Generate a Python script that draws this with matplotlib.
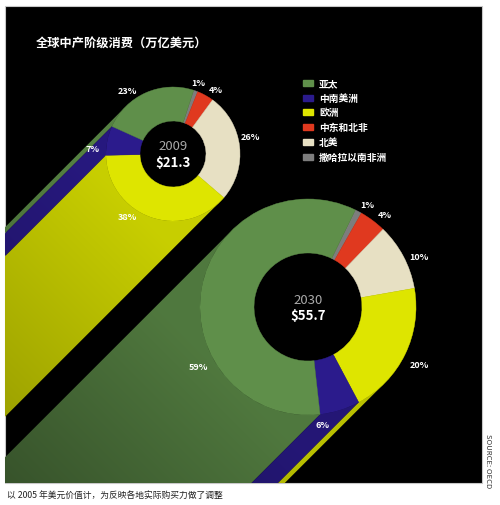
import numpy as np
import matplotlib.pyplot as plt
from matplotlib.patches import Wedge, Rectangle, Polygon

plt.rcParams['font.family'] = ['Noto Sans CJK SC', 'DejaVu Sans']

# data
regions = ['亚太', '中南美洲', '欧洲', '中东和北非', '北美', '撒哈拉以南非洲']
colors = ['#5f8f4a', '#2b1b8c', '#dee500', '#e0391f', '#e7e0c3', '#7d7d7d']
share_2009 = [23, 7, 38, 4, 26, 1]
share_2030 = [59, 6, 20, 4, 10, 1]
years = ['2009', '2030']
totals = ['$21.3', '$55.7']
# order of the slices going clockwise round each ring
ring_order = [5, 3, 4, 2, 1, 0]

W, H = 500, 506


def img(x, y):
    # picture pixel coords -> data coords (y up)
    return x, H - y


fig = plt.figure(figsize=(5, 5.06), dpi=100)
ax = fig.add_axes([0, 0, 1, 1])
ax.set_xlim(0, W)
ax.set_ylim(0, H)
ax.axis('off')

px0, py0 = img(5, 484)
px1, py1 = img(482, 7)
ax.add_patch(Rectangle((px0, py0), px1 - px0, py1 - py0, facecolor='black',
                       edgecolor='#c8c8c8', lw=0.8, zorder=0))

gx = np.linspace(px0, px1, 480)
gy = np.linspace(py0, py1, 480)
GX, GY = np.meshgrid(gx, gy)


def ring(cx, cy, r_out, r_in, shares, start, near, far, span):
    vals = np.array([shares[i] for i in ring_order], float)
    ang = vals / vals.sum() * 360
    cum = np.cumsum(ang)

    # extrusion toward the lower left
    d = np.array([-1, -1]) / np.sqrt(2)
    L = 900
    t = ((cx - GX) + (cy - GY)) / np.sqrt(2) - r_out
    fac = near - (near - far) * np.clip(t / span, 0, 1)
    phi = np.linspace(135, 315, 1441)
    idx = np.searchsorted(cum, (start - phi) % 360, side='right')
    cuts = np.flatnonzero(np.diff(idx)) + 1
    for run in np.split(np.arange(len(phi)), cuts):
        a = np.radians(phi[run[0]:run[-1] + 2] if run[-1] + 1 < len(phi) else phi[run])
        arc = np.column_stack([cx + r_out * np.cos(a), cy + r_out * np.sin(a)])
        pts = np.vstack([arc, (arc + L * d)[::-1]])
        poly = Polygon(pts, closed=True, facecolor='none', edgecolor='none')
        ax.add_patch(poly)
        rgb = np.array(plt.matplotlib.colors.to_rgb(colors[ring_order[idx[run[0]]]]))
        im = ax.imshow(np.clip(fac[..., None] * rgb, 0, 1), extent=(px0, px1, py0, py1),
                       origin='lower', aspect='auto', interpolation='bilinear', zorder=1)
        im.set_clip_path(poly)

    # ring face
    th = start
    for k, a in zip(ring_order, ang):
        ax.add_patch(Wedge((cx, cy), r_out, th - a, th, width=r_out - r_in,
                           facecolor=colors[k], edgecolor=colors[k], lw=0.3, zorder=2))
        th -= a


c09 = img(173, 155)
c30 = img(308, 308)
ring(*c09, 67, 33, share_2009, 72, 0.9, 0.66, 300)
ring(*c30, 108, 54, share_2030, 64, 0.84, 0.55, 260)

for (cx, cy), yr, tot in zip([c09, c30], years, totals):
    ax.text(cx, cy + 8, yr, color='#a9a9a9', fontsize=9.5, ha='center', va='center', zorder=4)
    ax.text(cx, cy - 8, tot, color='white', fontsize=9.5, fontweight='bold',
            ha='center', va='center', zorder=4)

# percentage labels
lab09 = [(127, 91), (93, 149), (127, 217), (216, 90), (250, 138), (198, 83)]
lab30 = [(198, 368), (323, 426), (419, 366), (385, 215), (419, 257), (367, 206)]
for shares, labs in [(share_2009, lab09), (share_2030, lab30)]:
    for s, (x, y) in zip(shares, labs):
        ax.text(*img(x, y), f'{s}%', color='white', fontsize=6.5, fontweight='bold',
                ha='center', va='center', zorder=4)

# legend
for i, (name, col) in enumerate(zip(regions, colors)):
    y = 84 + i * 14.7
    lx, ly = img(303, y + 3)
    ax.add_patch(Rectangle((lx, ly), 10, 6, color=col, zorder=4))
    ax.text(*img(319, y), name, color='white', fontsize=7, fontweight='bold',
            ha='left', va='center', zorder=4)

ax.text(*img(36, 43), '全球中产阶级消费（万亿美元）', color='white', fontsize=8.8,
        fontweight='bold', ha='left', va='center', zorder=4)
ax.text(*img(7, 495), '以 2005 年美元价值计，为反映各地实际购买力做了调整', color='#222222',
        fontsize=6.3, ha='left', va='center')
ax.text(*img(488, 461), 'SOURCE: OECD', color='#333333', fontsize=5.5, rotation=270,
        ha='center', va='center')

fig.savefig('out.png', dpi=100, facecolor='white')
